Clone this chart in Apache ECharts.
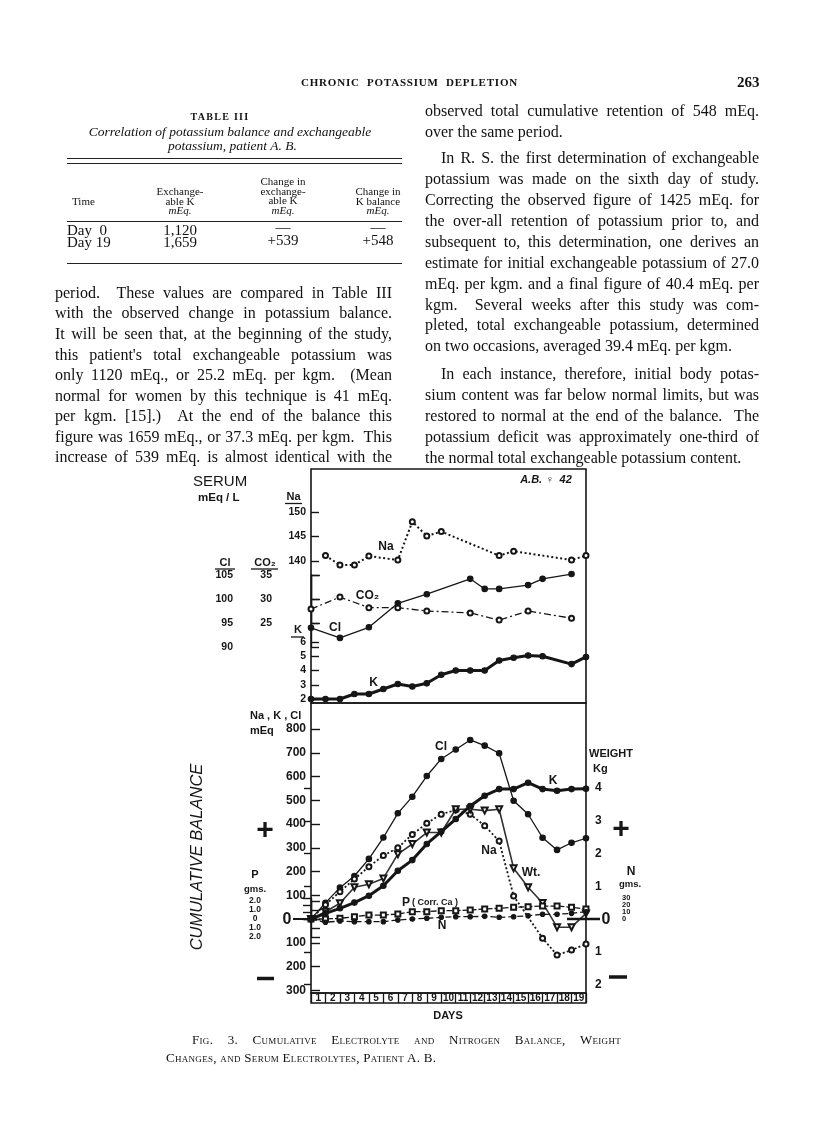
<!DOCTYPE html>
<html>
<head>
<meta charset="utf-8">
<script src="https://cdn.jsdelivr.net/npm/echarts/dist/echarts.min.js"></script>
<style>
html,body{margin:0;padding:0;background:#fff;}
#page{position:relative;width:816px;height:1121px;overflow:hidden;background:#fff;}
#chart{position:absolute;left:0;top:0;width:816px;height:1121px;z-index:1;}
.t{position:absolute;z-index:2;font-family:'Liberation Serif','DejaVu Serif',serif;color:#111;white-space:nowrap;}
.b{font-size:16px;line-height:20px;height:20px;}
.j{white-space:normal;text-align:justify;text-align-last:justify;overflow:hidden;}
.sc{font-variant:small-caps;}
.rule{position:absolute;z-index:2;background:#222;height:1px;}
.h{font-size:11px;line-height:9.5px;text-align:center;width:100px;}
</style>
</head>
<body>
<div id="page">
<div id="chart"></div>

<!-- running head -->
<div class="t j" style="left:301px;top:75px;width:217px;font-size:11px;font-weight:bold;letter-spacing:0.8px;line-height:15px;height:15px;">CHRONIC POTASSIUM DEPLETION</div>
<div class="t" style="left:737px;top:74px;font-size:15px;font-weight:bold;line-height:17px;">263</div>

<!-- Table III -->
<div class="t" style="left:120px;top:110px;width:200px;text-align:center;font-size:10px;font-weight:bold;letter-spacing:1.3px;line-height:14px;">TABLE III</div>
<div class="t" style="left:60px;top:124px;width:340px;text-align:center;font-size:13.5px;font-style:italic;line-height:15px;">Correlation of potassium balance and exchangeable</div>
<div class="t" style="left:60px;top:138px;width:345px;text-align:center;font-size:13.5px;font-style:italic;line-height:15px;">potassium, patient A. B.</div>
<div class="rule" style="left:67px;top:158px;width:335px;"></div>
<div class="rule" style="left:67px;top:163px;width:335px;"></div>
<div class="t" style="left:72px;top:195px;font-size:11px;line-height:12px;">Time</div>
<div class="t h" style="left:130px;top:187px;">Exchange-<br>able K<br><i>mEq.</i></div>
<div class="t h" style="left:233px;top:177px;">Change in<br>exchange-<br>able K<br><i>mEq.</i></div>
<div class="t h" style="left:328px;top:187px;">Change in<br>K balance<br><i>mEq.</i></div>
<div class="rule" style="left:67px;top:221px;width:335px;"></div>
<div class="t" style="left:67px;top:224px;font-size:15px;line-height:12px;">Day&nbsp;&nbsp;0<br>Day 19</div>
<div class="t" style="left:130px;top:224px;width:100px;text-align:center;font-size:15px;line-height:12px;">1,120<br>1,659</div>
<div class="t" style="left:233px;top:221px;width:100px;text-align:center;font-size:15px;line-height:13px;">&#8212;<br>+539</div>
<div class="t" style="left:328px;top:221px;width:100px;text-align:center;font-size:15px;line-height:13px;">&#8212;<br>+548</div>
<div class="rule" style="left:67px;top:263px;width:335px;"></div>

<!-- left column text -->
<div class="t b j" style="left:55px;top:283px;width:337px;">period.&nbsp; These values are compared in Table III</div>
<div class="t b j" style="left:55px;top:303px;width:337px;">with the observed change in potassium balance.</div>
<div class="t b j" style="left:55px;top:324px;width:337px;">It will be seen that, at the beginning of the study,</div>
<div class="t b j" style="left:55px;top:345px;width:337px;">this patient's total exchangeable potassium was</div>
<div class="t b j" style="left:55px;top:365px;width:337px;">only 1120 mEq., or 25.2 mEq. per kgm.&nbsp; (Mean</div>
<div class="t b j" style="left:55px;top:386px;width:337px;">normal for women by this technique is 41 mEq.</div>
<div class="t b j" style="left:55px;top:406px;width:337px;">per kgm. [15].)&nbsp; At the end of the balance this</div>
<div class="t b j" style="left:55px;top:427px;width:337px;">figure was 1659 mEq., or 37.3 mEq. per kgm.&nbsp; This</div>
<div class="t b j" style="left:55px;top:447px;width:337px;">increase of 539 mEq. is almost identical with the</div>

<!-- right column text -->
<div class="t b j" style="left:425px;top:101px;width:334px;">observed total cumulative retention of 548 mEq.</div>
<div class="t b" style="left:425px;top:122px;">over the same period.</div>
<div class="t b j" style="left:441px;top:148px;width:318px;">In R. S. the first determination of exchangeable</div>
<div class="t b j" style="left:425px;top:169px;width:334px;">potassium was made on the sixth day of study.</div>
<div class="t b j" style="left:425px;top:190px;width:334px;">Correcting the observed figure of 1425 mEq. for</div>
<div class="t b j" style="left:425px;top:211px;width:334px;">the over-all retention of potassium prior to, and</div>
<div class="t b j" style="left:425px;top:232px;width:334px;">subsequent to, this determination, one derives an</div>
<div class="t b j" style="left:425px;top:253px;width:334px;">estimate for initial exchangeable potassium of 27.0</div>
<div class="t b j" style="left:425px;top:274px;width:334px;">mEq. per kgm. and a final figure of 40.4 mEq. per</div>
<div class="t b j" style="left:425px;top:295px;width:334px;">kgm.&nbsp; Several weeks after this study was com-</div>
<div class="t b j" style="left:425px;top:315px;width:334px;">pleted, total exchangeable potassium, determined</div>
<div class="t b" style="left:425px;top:336px;">on two occasions, averaged 39.4 mEq. per kgm.</div>
<div class="t b j" style="left:441px;top:364px;width:318px;">In each instance, therefore, initial body potas-</div>
<div class="t b j" style="left:425px;top:385px;width:334px;">sium content was far below normal limits, but was</div>
<div class="t b j" style="left:425px;top:406px;width:334px;">restored to normal at the end of the balance.&nbsp; The</div>
<div class="t b j" style="left:425px;top:427px;width:334px;">potassium deficit was approximately one-third of</div>
<div class="t b" style="left:425px;top:448px;">the normal total exchangeable potassium content.</div>

<!-- figure caption -->
<div class="t j sc" style="left:192px;top:1032px;width:429px;font-size:13px;line-height:16px;height:16px;letter-spacing:0.3px;">Fig. 3. Cumulative Electrolyte and Nitrogen Balance, Weight</div>
<div class="t sc" style="left:166px;top:1050px;font-size:13px;line-height:16px;letter-spacing:0.3px;">Changes, and Serum Electrolytes, Patient A. B.</div>
</div>

<script>
// ---------------- DATA ----------------
const dayLabels = ['1','2','3','4','5','6','7','8','9','10','11','12','13','14','15','16','17','18','19'];

// Serum concentrations (mEq/L)
const serumNaDays  = [1, 2, 3, 4, 6, 7, 8, 9, 13, 14, 18, 19];
const serumNa      = [141.1, 139.2, 139.2, 141.0, 140.2, 148.0, 145.1, 146.0, 141.1, 142.0, 140.2, 141.1];
const serumCO2Days = [0, 2, 4, 6, 8, 11, 13, 15, 18];
const serumCO2     = [27.9, 30.4, 28.2, 28.2, 27.5, 27.1, 25.6, 27.5, 26.0];
const serumClDays  = [0, 2, 4, 6, 8, 11, 12, 13, 15, 16, 18];
const serumCl      = [94.0, 91.9, 94.1, 99.1, 101.0, 104.2, 102.1, 102.1, 102.9, 104.2, 105.2];
const serumKDays   = [0, 1, 2, 3, 4, 5, 6, 7, 8, 9, 10, 11, 12, 13, 14, 15, 16, 18, 19];
const serumK       = [2.0, 2.0, 2.0, 2.35, 2.35, 2.7, 3.05, 2.88, 3.1, 3.7, 4.0, 4.0, 4.0, 4.7, 4.9, 5.05, 5.0, 4.45, 4.95];

// Cumulative balance
const balDays  = [0, 1, 2, 3, 4, 5, 6, 7, 8, 9, 10, 11, 12, 13, 14, 15, 16, 17, 18, 19];
const cumCl    = [0, 68, 132, 181, 253, 343, 445, 515, 602, 674, 714, 754, 730, 698, 498, 441, 342, 291, 321, 340];   // mEq
const cumNaDays = [0, 1, 2, 3, 4, 5, 6, 7, 8, 9, 10, 11, 12, 13, 14, 16, 17, 18, 19];
const cumNa    = [0, 60, 115, 168, 220, 267, 300, 356, 403, 441, 459, 441, 393, 328, 97, -81, -152, -131, -105];     // mEq
const cumK     = [0, 24, 45, 69, 98, 140, 203, 248, 316, 368, 421, 476, 519, 547, 547, 574, 547, 540, 547, 548];     // mEq
const weightKg = [0, 0.22, 0.48, 0.97, 1.06, 1.24, 1.98, 2.29, 2.64, 2.64, 3.35, 3.35, 3.31, 3.35, 1.55, 0.97, 0.49, -0.25, -0.25, 0.17];
const cumP     = [0, 0, 0.07, 0.26, 0.44, 0.44, 0.56, 0.81, 0.81, 0.93, 0.93, 1.0, 1.11, 1.19, 1.3, 1.37, 1.44, 1.44, 1.3, 1.11]; // gms
const cumN     = [0, -4.7, -2.9, -3.8, -3.8, -3.8, -1.4, 0, 1.0, 2.4, 3.3, 3.3, 3.8, 2.4, 3.3, 4.7, 6.7, 6.7, 8.1, 10.4];     // gms
const nTickLabels = [0, 10, 20, 30];

// ---------------- LAYOUT ----------------
const INK = '#161616';
const SANS = "'Liberation Sans', Arial, sans-serif";
const L = 311, W = 275;
const grid = [], xAxis = [], yAxis = [];

function addGrid(top, height, border, yOpt, xOpt) {
  grid.push({left: L, width: W, top: top, height: height, show: !!border,
    borderColor: INK, borderWidth: border || 0, backgroundColor: 'transparent',
    containLabel: false, outerBoundsMode: 'none'});
  const gi = grid.length - 1;
  xAxis.push(Object.assign({gridIndex: gi, type: 'value', min: 0, max: 19, show: false}, xOpt || {}));
  yAxis.push(Object.assign({gridIndex: gi, type: 'value', show: false}, yOpt || {}));
  return gi;
}
function lab(size, extra) {
  return Object.assign({color: INK, fontFamily: SANS, fontWeight: 'bold', fontSize: size,
    showMinLabel: true, showMaxLabel: true, hideOverlap: false}, extra || {});
}
function scaleY(min, max, interval, o) {
  return Object.assign({
    show: true, min: min, max: max, interval: interval,
    splitLine: {show: false},
    axisLine: {show: false},
    axisTick: {show: true, inside: true, length: 8, lineStyle: {color: INK, width: 1.4}}
  }, o);
}
// grid with value range [minV,maxV] mapped onto pixels [pMin, pMax]
function scaleGrid(minV, pMin, maxV, pMax, o) {
  return addGrid(pMax, pMin - pMax, 0, scaleY(minV, maxV, o.interval, o.axis));
}

const gU = addGrid(469, 234, 1.6);
const gLo = addGrid(703, 290, 1.6);
const gD = addGrid(993, 10, 1.4, {show: false}, {
  type: 'category', data: dayLabels, boundaryGap: true, show: true, min: null, max: null,
  axisLine: {show: false}, axisTick: {show: false},
  splitLine: {show: true, interval: 0, lineStyle: {color: INK, width: 1.3}},
  axisLabel: lab(10, {inside: true, margin: 5, verticalAlign: 'middle', interval: 0})
});

const gNa = scaleGrid(140, 561, 150, 512, {interval: 5, axis: {position: 'left', axisLabel: lab(10.5, {margin: 5})}});
const gK  = scaleGrid(2, 699, 6, 642, {interval: 1, axis: {position: 'left', axisLabel: lab(10.5, {margin: 5})}});
const gCl = scaleGrid(90, 647, 105, 575, {interval: 5, axis: {position: 'left', offset: 72,
  axisLine: {show: true, lineStyle: {color: INK, width: 1.4}}, axisLabel: lab(10.5, {margin: 6})}});
const gCO2 = scaleGrid(25, 623, 35, 575, {interval: 5, axis: {position: 'left', offset: 34,
  axisLine: {show: true, lineStyle: {color: INK, width: 1.4}},
  axisTick: {show: true, inside: true, length: 9, lineStyle: {color: INK, width: 1.4}},
  axisLabel: lab(10.5, {margin: 5})}});
const gM = scaleGrid(-300, 990.25, 800, 729, {interval: 100, axis: {position: 'left',
  axisTick: {show: true, inside: true, length: 9, lineStyle: {color: INK, width: 1.4}},
  axisLabel: lab(12, {margin: 5, formatter: v => v === 0 ? '' : String(Math.abs(v))})}});
const gW = scaleGrid(-2, 984.5, 4, 788, {interval: 1, axis: {position: 'right',
  axisTick: {show: true, inside: true, length: 7, lineStyle: {color: INK, width: 1.4}},
  axisLabel: lab(12, {margin: 9, formatter: v => v === 0 ? '' : String(Math.abs(v))})}});
const gP = scaleGrid(-2, 937, 2, 901, {interval: 1, axis: {position: 'left', offset: 44,
  axisLine: {show: true, lineStyle: {color: INK, width: 1.4}},
  axisTick: {show: true, inside: true, length: 9, lineStyle: {color: INK, width: 1.4}},
  axisLabel: lab(8.5, {margin: 12, align: 'center', lineHeight: 8,
    formatter: v => v === 0 ? '0' : Math.abs(v).toFixed(1)})}});
const N_OFFSET = 32;
const gN = scaleGrid(0, 919, 30, 898, {interval: 10, axis: {position: 'right', offset: N_OFFSET,
  axisLine: {show: true, lineStyle: {color: INK, width: 1.4}},
  axisTick: {show: true, inside: true, length: 8, lineStyle: {color: INK, width: 1.4}},
  axisLabel: {show: false}}});

function pairs(days, vals) { return days.map((d, i) => [d, vals[i]]); }
function line(gi, data, o) {
  return Object.assign({
    type: 'line', xAxisIndex: gi, yAxisIndex: gi, data: data, clip: false,
    animation: false, silent: true, symbol: 'circle', symbolSize: 5,
    lineStyle: {color: INK, width: 1.3},
    itemStyle: {color: INK, borderColor: INK, borderWidth: 1.1}
  }, o);
}

const series = [
  // serum
  line(gNa, pairs(serumNaDays, serumNa), {symbol: 'emptyCircle', symbolSize: 5, lineStyle: {color: INK, width: 2, type: [2, 2.5]}}),
  line(gCO2, pairs(serumCO2Days, serumCO2), {symbol: 'emptyCircle', symbolSize: 5, lineStyle: {color: INK, width: 1.3, type: [7, 3, 2, 3]}}),
  line(gCl, pairs(serumClDays, serumCl), {symbolSize: 5.5}),
  line(gK, pairs(serumKDays, serumK), {symbolSize: 5.5, lineStyle: {color: INK, width: 3}}),
  // cumulative balance
  line(gM, pairs(balDays, cumCl), {symbolSize: 5.5}),
  line(gM, pairs(cumNaDays, cumNa), {symbol: 'emptyCircle', symbolSize: 5, lineStyle: {color: INK, width: 1.8, type: [2, 2.2]}}),
  line(gW, pairs(balDays, weightKg), {symbol: 'emptyTriangle', symbolRotate: 180, symbolSize: 6, lineStyle: {color: '#333', width: 1.6}}),
  line(gM, pairs(balDays, cumK), {symbolSize: 5.5, lineStyle: {color: INK, width: 3}}),
  line(gP, pairs(balDays, cumP), {symbol: 'emptyRect', symbolSize: 5, lineStyle: {color: INK, width: 1.3, type: [6, 2]}}),
  line(gN, pairs(balDays, cumN), {symbolSize: 4.5, lineStyle: {color: INK, width: 1.3, type: [6, 3]}})
];

// ---------------- TEXT / DECORATION ----------------
function T(x, y, text, size, o) {
  o = o || {};
  const font = (o.italic ? 'italic ' : '') + (o.weight || 'bold') + ' ' + size + 'px ' + (o.family || SANS);
  const al = o.align || 'center';
  return {type: 'text', x: x, y: y, rotation: o.rot || 0, z: 50, silent: true,
    style: {text: text, font: font, fill: INK, align: al, textAlign: al,
      verticalAlign: 'middle', textVerticalAlign: 'middle'}};
}
function Ln(x1, y1, x2, y2, w) {
  return {type: 'line', z: 50, silent: true, shape: {x1: x1, y1: y1, x2: x2, y2: y2},
    style: {stroke: INK, lineWidth: w || 1.3}};
}

const graphics = [
  // serum header
  T(193, 482, 'SERUM', 15, {align: 'left', weight: 'normal'}),
  T(198, 498, 'mEq / L', 11.5, {align: 'left'}),
  T(293.5, 497, 'Na', 11), Ln(285, 503.5, 302, 503.5, 1.3),
  T(225, 563, 'Cl', 11), Ln(215, 569, 235, 569, 1.3),
  T(265, 563, 'CO\u2082', 11), Ln(251, 569, 278, 569, 1.3),
  T(298, 630, 'K', 11), Ln(291, 637, 304, 637, 1.3),
  T(546, 480, 'A.B. \u2640  42', 11, {italic: true}),
  // serum curve labels
  T(386, 546.5, 'Na', 12),
  T(367.5, 595.5, 'CO\u2082', 12),
  T(335, 627.5, 'Cl', 12),
  T(373.5, 682.5, 'K', 12),
  // lower panel headers
  T(250, 716, 'Na , K , Cl', 11, {align: 'left'}),
  T(250, 731, 'mEq', 11, {align: 'left'}),
  T(589, 754, 'WEIGHT', 11, {align: 'left'}),
  T(593, 769, 'Kg', 11, {align: 'left'}),
  T(255, 875, 'P', 11),
  T(255, 889, 'gms.', 9.5),
  T(631, 872, 'N', 12),
  T(630, 884, 'gms.', 9.5),
  // curve labels
  T(441, 747, 'Cl', 12),
  T(553, 781, 'K', 12),
  T(489, 851, 'Na', 12),
  T(531, 873, 'Wt.', 12),
  T(402, 902.5, 'P', 12, {align: 'left'}),
  T(412, 903, '( Corr. Ca )', 9, {align: 'left'}),
  T(442, 926, 'N', 12),
  // zero lines and signs
  T(287, 919.5, '0', 16),
  Ln(293, 919, 311, 919, 2),
  Ln(567, 919, 600, 919, 2.4),
  T(606, 919.5, '0', 16),
  T(265, 831, '+', 30),
  T(621, 830, '+', 30),
  Ln(257, 978.5, 274, 978.5, 3.5),
  Ln(609, 977, 627, 977, 3.5),
  // side title and x title
  T(197, 857, 'CUMULATIVE BALANCE', 16.5, {italic: true, weight: 'normal', rot: Math.PI / 2}),
  T(448, 1016, 'DAYS', 11)
];

const chart = echarts.init(document.getElementById('chart'), null, {renderer: 'canvas'});
chart.setOption({
  backgroundColor: 'transparent',
  animation: false,
  grid: grid, xAxis: xAxis, yAxis: yAxis,
  series: series
});

// N (gms) scale labels: packed too tightly for the axis' own label layout, so place them
// at the positions the N axis itself gives for each tick value.
const nAxisX = chart.convertToPixel({xAxisIndex: gN}, 19) + N_OFFSET + 4;
nTickLabels.forEach(v => {
  const y = chart.convertToPixel({yAxisIndex: gN}, v);
  graphics.push(T(nAxisX, y, String(v), 7.5, {align: 'left'}));
});

chart.setOption({graphic: {elements: graphics}});
</script>
</body>
</html>
